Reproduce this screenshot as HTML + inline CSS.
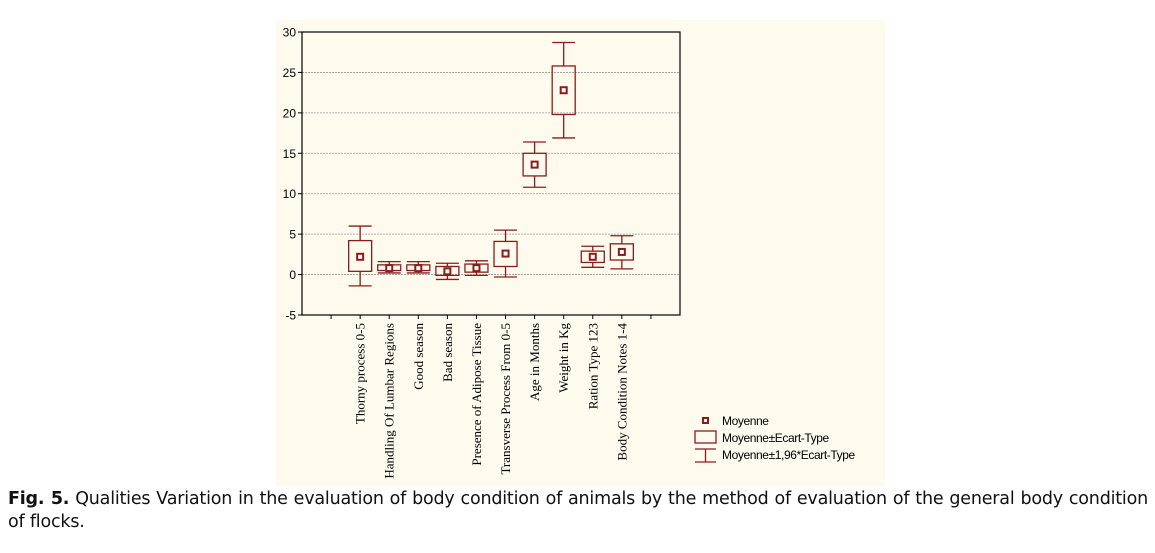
<!DOCTYPE html>
<html><head><meta charset="utf-8"><style>
body{margin:0;width:1155px;height:553px;background:#fff;position:relative;overflow:hidden}
#bg{position:absolute;left:276px;top:20px;width:609px;height:466px;background:#fffaee}
#cap{position:absolute;left:8px;top:488px;width:1140px;font-family:"DejaVu Sans",sans-serif;font-size:17.5px;line-height:23px;color:#111;text-align:justify;letter-spacing:-0.2px}
</style></head><body>
<div id="bg"></div>
<svg id="chart" width="1155" height="553" style="position:absolute;left:0;top:0"></svg>
<div id="cap"><b>Fig. 5.</b> Qualities Variation in the evaluation of body condition of animals by the method of evaluation of the general body condition of flocks.</div>
<script>
const categories=["Thorny process 0-5","Handling Of Lumbar Regions","Good season","Bad season","Presence of Adipose Tissue","Transverse Process From 0-5","Age in Months","Weight in Kg","Ration Type 123","Body Condition Notes 1-4"];
const means=[2.2,0.8,0.8,0.4,0.8,2.6,13.6,22.8,2.2,2.8];
const boxLow=[0.4,0.5,0.5,-0.1,0.3,1.0,12.2,19.8,1.5,1.8];
const boxHigh=[4.2,1.2,1.2,1.0,1.3,4.1,15.0,25.8,2.9,3.8];
const whiskLow=[-1.4,0.2,0.2,-0.6,-0.1,-0.3,10.8,16.9,0.9,0.7];
const whiskHigh=[6.0,1.6,1.6,1.4,1.7,5.5,16.4,28.7,3.5,4.8];
const yTicks=[30,25,20,15,10,5,0,-5];
const svg=document.getElementById('chart');
const NS='http://www.w3.org/2000/svg';
const L=302,R=680,T=32,B=315,yMin=-5,yMax=30,slots=13,C='#8a1c1c';
const y=v=>B-(v-yMin)/(yMax-yMin)*(B-T);
const x=i=>L+(i+2)*(R-L)/slots;
function mk(tag,attrs,parent){const e=document.createElementNS(NS,tag);for(const k in attrs)e.setAttribute(k,attrs[k]);(parent||svg).appendChild(e);return e;}
yTicks.forEach(t=>{
  if(t>yMin&&t<yMax){const g=mk('line',{x1:L,x2:R,y1:y(t),y2:y(t),stroke:'#999','stroke-dasharray':'2,1','stroke-width':0.8});
  
  }
  const tk=mk('line',{x1:L-4,x2:L,y1:y(t),y2:y(t),stroke:'#000'});
  
  
  const lb=mk('text',{x:L-6,y:y(t)+4.5,'text-anchor':'end','font-family':'Liberation Sans, sans-serif','font-size':12});
  lb.textContent=t;
  
  
});
const frame=mk('rect',{x:L,y:T,width:R-L,height:B-T,fill:'none',stroke:'#000','stroke-width':1.2});


for(let k=1;k<slots;k++){const tx=L+k*(R-L)/slots;const t=mk('line',{x1:tx,x2:tx,y1:B,y2:B+4,stroke:'#000'});

}
categories.forEach((c,i)=>{
  const cx=x(i),bw=23;
  const g=mk('g',{});
  
  
  mk('line',{x1:cx,x2:cx,y1:y(whiskHigh[i]),y2:y(boxHigh[i]),stroke:C,'stroke-width':1.3},g);
  mk('line',{x1:cx,x2:cx,y1:y(boxLow[i]),y2:y(whiskLow[i]),stroke:C,'stroke-width':1.3},g);
  mk('line',{x1:cx-bw/2,x2:cx+bw/2,y1:y(whiskHigh[i]),y2:y(whiskHigh[i]),stroke:C,'stroke-width':1.3},g);
  mk('line',{x1:cx-bw/2,x2:cx+bw/2,y1:y(whiskLow[i]),y2:y(whiskLow[i]),stroke:C,'stroke-width':1.3},g);
  mk('rect',{x:cx-bw/2,y:y(boxHigh[i]),width:bw,height:y(boxLow[i])-y(boxHigh[i]),fill:'none',stroke:C,'stroke-width':1.3},g);
  mk('rect',{x:cx-3,y:y(means[i])-3,width:6,height:6,fill:'#fff',stroke:C,'stroke-width':2},g);
  const lb=mk('text',{x:0,y:0,'text-anchor':'end','font-family':'Liberation Serif, serif','font-size':13,transform:`translate(${cx+4.5},${B+8}) rotate(-90)`});
  lb.textContent=c;
  
  
});
const lg=mk('g',{});


mk('rect',{x:703,y:418,width:5,height:5,fill:'#fff',stroke:C,'stroke-width':2},lg);
mk('rect',{x:695,y:431,width:21,height:12,fill:'none',stroke:C,'stroke-width':1.3},lg);
mk('line',{x1:695,x2:716,y1:449,y2:449,stroke:C,'stroke-width':1.3},lg);
mk('line',{x1:695,x2:716,y1:462,y2:462,stroke:C,'stroke-width':1.3},lg);
mk('line',{x1:705.5,x2:705.5,y1:449,y2:462,stroke:C,'stroke-width':1.3},lg);
[["Moyenne",425],["Moyenne±Ecart-Type",442],["Moyenne±1,96*Ecart-Type",459]].forEach(([t,yy])=>{
  const e=mk('text',{x:722,y:yy,'font-family':'Liberation Sans, sans-serif','font-size':12,'letter-spacing':-0.4},lg);
  e.textContent=t;
  
  
});
</script>
</body></html>
